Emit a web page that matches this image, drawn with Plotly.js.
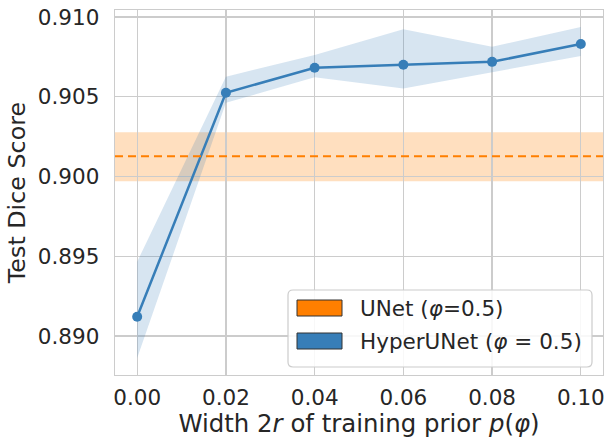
<!DOCTYPE html>
<html>
<head>
<meta charset="utf-8">
<script src="https://cdn.plot.ly/plotly-3.0.1.min.js"></script>
<style>html,body{margin:0;padding:0;background:#fff;}#chart{width:606px;height:438px;}</style>
</head>
<body>
<div id="chart"></div>
<script>
// ---- data ----
const widths = [0.00, 0.02, 0.04, 0.06, 0.08, 0.10];
const hyperMean = [0.89121, 0.90525, 0.90682, 0.90701, 0.90719, 0.90831];
const hyperUpper = [0.89466, 0.90626, 0.90762, 0.90923, 0.90813, 0.90937];
const hyperLower = [0.88862, 0.90462, 0.90623, 0.90552, 0.90652, 0.90756];
const unetMean = 0.90127;
const unetUpper = 0.90278;
const unetLower = 0.89971;
const xTicks = [0.00, 0.02, 0.04, 0.06, 0.08, 0.10];
const xTickText = ["0.00", "0.02", "0.04", "0.06", "0.08", "0.10"];
const yTicks = [0.890, 0.895, 0.900, 0.905, 0.910];
const yTickText = ["0.890", "0.895", "0.900", "0.905", "0.910"];
const legendLabels = ["UNet (<i>φ</i>=0.5)", "HyperUNet (<i>φ</i> = 0.5)"];

const blue = '#377eb8';
const orange = '#ff7f00';
const font = 'DejaVu Sans, sans-serif';

// geometry helpers (pixel -> paper) for the legend box
const L = 115, R = 603, T = 10, B = 375;
const px = v => (v - L) / (R - L);
const py = v => (B - v) / (B - T);

const traces = [
  {
    x: widths.concat(widths.slice().reverse()),
    y: hyperUpper.concat(hyperLower.slice().reverse()),
    type: 'scatter', mode: 'lines', fill: 'toself',
    fillcolor: 'rgba(55,126,184,0.2)', line: {width: 0, color: 'rgba(0,0,0,0)'},
    hoverinfo: 'skip', showlegend: false
  },
  {
    x: widths, y: hyperMean, type: 'scatter', mode: 'lines+markers',
    line: {color: blue, width: 2.5}, marker: {color: blue, size: 10},
    showlegend: false
  }
];

// rounded legend box path
function roundRect(x0, y0, x1, y1, r) {
  const rx = r / (R - L), ry = r / (B - T);
  const a = px(x0), b = px(x1), top = py(y0), bot = py(y1);
  return `M${a + rx},${top} L${b - rx},${top} Q${b},${top} ${b},${top - ry} ` +
         `L${b},${bot + ry} Q${b},${bot} ${b - rx},${bot} L${a + rx},${bot} ` +
         `Q${a},${bot} ${a},${bot + ry} L${a},${top - ry} Q${a},${top} ${a + rx},${top} Z`;
}

const shapes = [
  {type: 'rect', xref: 'paper', yref: 'y', x0: 0, x1: 1, y0: unetLower, y1: unetUpper,
   fillcolor: 'rgba(255,127,0,0.25)', line: {width: 0}, layer: 'below'},
  {type: 'line', xref: 'paper', yref: 'y', x0: 0, x1: 1, y0: unetMean, y1: unetMean,
   line: {color: orange, width: 2, dash: '8px,5px'}},
  {type: 'path', xref: 'paper', yref: 'paper', path: roundRect(288, 290, 592, 367, 5),
   fillcolor: 'rgba(255,255,255,0.85)', line: {color: '#cccccc', width: 1.2}},
  {type: 'rect', xref: 'paper', yref: 'paper', x0: px(297), x1: px(342), y0: py(316), y1: py(300),
   fillcolor: orange, line: {color: '#333333', width: 1}},
  {type: 'rect', xref: 'paper', yref: 'paper', x0: px(297), x1: px(342), y0: py(349), y1: py(333),
   fillcolor: blue, line: {color: '#333333', width: 1}}
];

const annotations = [
  {xref: 'paper', yref: 'paper', x: px(358), y: py(308), xanchor: 'left', yanchor: 'middle',
   text: legendLabels[0], showarrow: false, font: {family: font, size: 21.5, color: '#262626'}},
  {xref: 'paper', yref: 'paper', x: px(358), y: py(341), xanchor: 'left', yanchor: 'middle',
   text: legendLabels[1], showarrow: false, font: {family: font, size: 21.5, color: '#262626'}}
];

const layout = {
  width: 606, height: 438,
  margin: {l: L, r: 606 - R, t: T, b: 438 - B},
  paper_bgcolor: '#ffffff', plot_bgcolor: '#ffffff',
  font: {family: font, color: '#262626'},
  showlegend: false,
  xaxis: {
    range: [-0.005, 0.105], tickvals: xTicks, ticktext: xTickText,
    showgrid: true, gridcolor: '#cccccc', gridwidth: 1.2,
    showline: true, mirror: true, linecolor: '#cccccc', linewidth: 1.3,
    zeroline: false, ticks: '', ticklabelstandoff: 3,
    tickfont: {family: font, size: 21.5, color: '#262626'},
    title: {text: 'Width 2<i>r</i> of training prior <i>p</i>(<i>φ</i>)', standoff: 0,
            font: {family: font, size: 24.4, color: '#262626'}}
  },
  yaxis: {
    range: [0.88756, 0.91044], tickvals: yTicks, ticktext: yTickText,
    showgrid: true, gridcolor: '#cccccc', gridwidth: 1.2,
    showline: true, mirror: true, linecolor: '#cccccc', linewidth: 1.3,
    zeroline: false, ticks: '', ticklabelstandoff: 10,
    tickfont: {family: font, size: 21.5, color: '#262626'},
    title: {text: 'Test Dice Score', standoff: 5,
            font: {family: font, size: 23.8, color: '#262626'}}
  },
  shapes: shapes,
  annotations: annotations
};

Plotly.newPlot('chart', traces, layout, {displayModeBar: false, staticPlot: true});
</script>
</body>
</html>
